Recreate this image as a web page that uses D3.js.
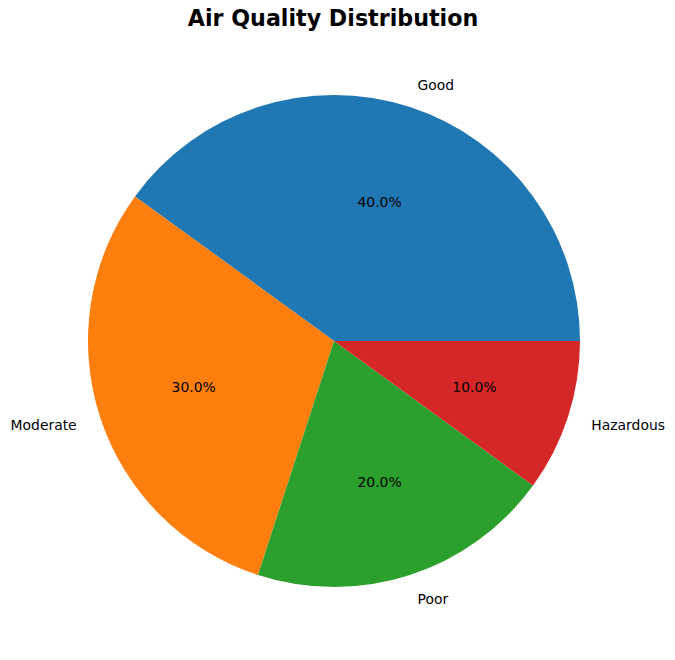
<!DOCTYPE html>
<html>
<head>
    <meta charset="utf-8">
    <title>Air Quality Distribution</title>
    <script src="https://cdn.jsdelivr.net/npm/d3@7"></script>
    <style>
        body { margin: 0; background: #fff; }
        svg text { font-family: "DejaVu Sans", sans-serif; }
    </style>
</head>
<body>
    <svg width="675" height="660"></svg>

    <script>
        const categories = ['Good', 'Moderate', 'Poor', 'Hazardous'];
        const shares = [40, 30, 20, 10];
        const colors = ['#1f77b4', '#ff7f0e', '#2ca02c', '#d62728'];

        const svg = d3.select("svg"),
            cx = 334, cy = 341, radius = 246;

        svg.append("text")
            .attr("x", 333)
            .attr("y", 26)
            .attr("text-anchor", "middle")
            .style("font-size", "22.2px")
            .style("font-weight", "bold")
            .text("Air Quality Distribution");

        const data = categories.map((c, i) => ({ name: c, value: shares[i], color: colors[i] }));

        // matplotlib style: start at 3 o'clock, counter-clockwise
        // d3 angles are clockwise from 12 o'clock, so map accordingly
        const pie = d3.pie()
            .value(d => d.value)
            .sort(null)
            .startAngle(Math.PI / 2)
            .endAngle(Math.PI / 2 - 2 * Math.PI);

        const arc = d3.arc().innerRadius(0).outerRadius(radius);
        const arcs = pie(data);

        const g = svg.append("g").attr("transform", "translate(" + cx + "," + cy + ")");

        g.selectAll("path")
            .data(arcs)
            .enter()
            .append("path")
            .attr("d", arc)
            .attr("fill", d => d.data.color);

        function mid(d) { return (d.startAngle + d.endAngle) / 2; }

        // category labels at 1.1 r
        g.selectAll(".label")
            .data(arcs)
            .enter()
            .append("text")
            .attr("class", "label")
            .attr("x", d => Math.sin(mid(d)) * radius * 1.1)
            .attr("y", d => -Math.cos(mid(d)) * radius * 1.1 + 1)
            .attr("dy", "0.35em")
            .attr("text-anchor", d => Math.sin(mid(d)) >= 0 ? "start" : "end")
            .style("font-size", "13.9px")
            .text(d => d.data.name);

        // percentages at 0.6 r
        g.selectAll(".pct")
            .data(arcs)
            .enter()
            .append("text")
            .attr("class", "pct")
            .attr("x", d => Math.sin(mid(d)) * radius * 0.6)
            .attr("y", d => -Math.cos(mid(d)) * radius * 0.6 + 1)
            .attr("dy", "0.35em")
            .attr("text-anchor", "middle")
            .style("font-size", "13.9px")
            .text(d => d.data.value.toFixed(1) + "%");
    </script>
</body>
</html>
